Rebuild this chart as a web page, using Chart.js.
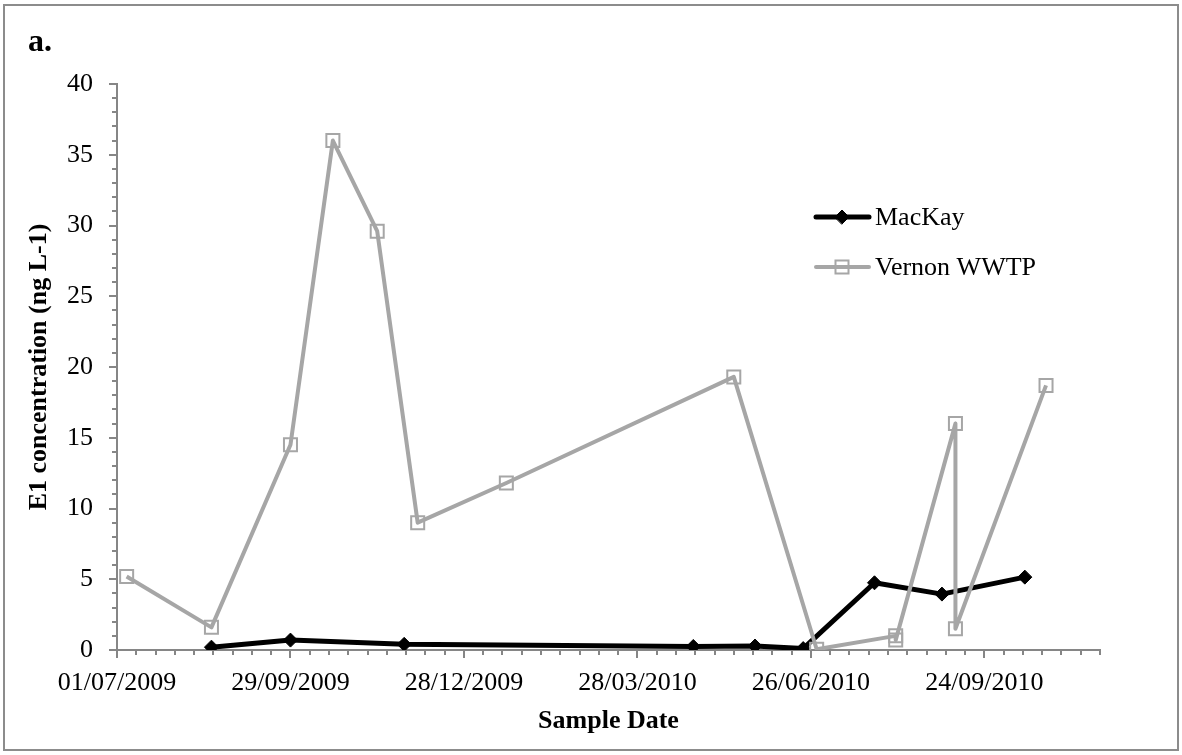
<!DOCTYPE html>
<html>
<head>
<meta charset="utf-8">
<script src="https://cdn.jsdelivr.net/npm/chart.js@4.4.1/dist/chart.umd.min.js"></script>
<style>
  html, body { margin: 0; padding: 0; background: #fff; }
  #wrap { position: relative; width: 1182px; height: 755px; }
</style>
</head>
<body>
<div id="wrap"><canvas id="myChart" width="1182" height="755"></canvas></div>
<script>
const ctx = document.getElementById('myChart')

// sample dates (dd/mm/yyyy) and E1 values in ng/L
const mackayDates = ['19/08/2009', '29/09/2009', '27/11/2009', '26/04/2010', '28/05/2010',
                     '22/06/2010', '29/07/2010', '02/09/2010', '15/10/2010']
const mackayE1 = [0.2, 0.7, 0.4, 0.25, 0.28, 0.1, 4.75, 3.95, 5.15]

const vernonDates = ['06/07/2009', '19/08/2009', '29/09/2009', '21/10/2009', '13/11/2009',
                     '04/12/2009', '19/01/2010', '17/05/2010', '29/06/2010', '09/08/2010',
                     '09/08/2010', '09/09/2010', '09/09/2010', '26/10/2010']
const vernonE1 = [5.2, 1.6, 14.5, 36.0, 29.6, 9.0, 11.8, 19.3, 0.05, 1.0, 0.7, 16.0, 1.5, 18.7]

const xTickLabels = ['01/07/2009', '29/09/2009', '28/12/2009', '28/03/2010', '26/06/2010', '24/09/2010']
const yTickLabels = [0, 5, 10, 15, 20, 25, 30, 35, 40]
const axisEnd = '23/11/2010'

const serif = "'Liberation Serif', 'Times New Roman', serif"
const axisGrey = '#868686'

// days since the first axis date
function toDay(s) {
  const [d, m, y] = s.split('/').map(Number)
  const [d0, m0, y0] = xTickLabels[0].split('/').map(Number)
  return Math.round((Date.UTC(y, m - 1, d) - Date.UTC(y0, m0 - 1, d0)) / 86400000)
}

const toPoints = (dates, vals) => dates.map((d, i) => ({ x: toDay(d), y: vals[i] }))

// frame, panel letter, minor/major tick marks and the legend
const decorations = {
  id: 'decorations',
  beforeDraw(chart) {
    const c = chart.ctx
    c.save()
    c.fillStyle = '#fff'
    c.fillRect(0, 0, chart.width, chart.height)
    c.strokeStyle = '#8c8c8c'
    c.lineWidth = 2
    c.strokeRect(4, 5, 1174, 745)
    c.fillStyle = '#000'
    c.font = 'bold 32px ' + serif
    c.textBaseline = 'alphabetic'
    c.fillText('a.', 28, 51)
    c.restore()
  },
  beforeDatasetsDraw(chart) {
    const c = chart.ctx
    const xs = chart.scales.x, ys = chart.scales.y
    c.save()
    c.strokeStyle = axisGrey
    c.lineWidth = 2
    c.beginPath()
    xs.ticks.forEach(t => {
      const px = Math.round(xs.getPixelForValue(t.value))
      const len = t.value % 90 === 0 ? 8 : 5
      c.moveTo(px, xs.top)
      c.lineTo(px, xs.top + len)
    })
    ys.ticks.forEach(t => {
      const py = Math.round(ys.getPixelForValue(t.value))
      const len = t.value % 5 === 0 ? 8 : 5
      c.moveTo(ys.right, py)
      c.lineTo(ys.right - len, py)
    })
    c.stroke()
    c.restore()
  },
  afterDraw(chart) {
    const c = chart.ctx
    const rows = [217, 267]
    c.save()
    chart.data.datasets.forEach((ds, i) => {
      const y = rows[i]
      c.strokeStyle = ds.borderColor
      c.lineWidth = ds.borderWidth
      c.lineCap = 'round'
      c.beginPath()
      c.moveTo(816, y)
      c.lineTo(869, y)
      c.stroke()
      c.fillStyle = ds.pointBackgroundColor
      c.strokeStyle = ds.pointBorderColor
      c.lineWidth = ds.pointBorderWidth
      Chart.helpers.drawPoint(c, { pointStyle: ds.pointStyle, radius: ds.pointRadius, rotation: 0, borderWidth: ds.pointBorderWidth }, 842, y)
      c.fillStyle = '#000'
      c.font = '26px ' + serif
      c.textBaseline = 'middle'
      c.fillText(ds.label, 875, y + 1)
    })
    c.restore()
  }
}

new Chart(ctx, {
  type: 'line',
  data: {
    datasets: [{
      label: 'MacKay',
      data: toPoints(mackayDates, mackayE1),
      borderColor: '#000',
      borderWidth: 5,
      borderJoinStyle: 'round',
      pointStyle: 'rectRot',
      pointRadius: 7,
      pointBackgroundColor: '#000',
      pointBorderColor: '#000',
      pointBorderWidth: 1,
      order: 1
    }, {
      label: 'Vernon WWTP',
      data: toPoints(vernonDates, vernonE1),
      borderColor: '#a6a6a6',
      borderWidth: 4,
      borderJoinStyle: 'round',
      pointStyle: 'rect',
      pointRadius: 9.2,
      pointBackgroundColor: 'rgba(255,255,255,0)',
      pointBorderColor: '#a6a6a6',
      pointBorderWidth: 2,
      order: 0
    }]
  },
  options: {
    responsive: false,
    animation: false,
    layout: { padding: { left: 14, right: 82, top: 84, bottom: 8 } },
    plugins: {
      legend: { display: false },
      tooltip: { enabled: false }
    },
    elements: { line: { tension: 0 } },
    scales: {
      x: {
        type: 'linear',
        min: 0,
        max: toDay(axisEnd),
        afterFit: s => { s.height = 97 },
        border: { display: true, color: axisGrey, width: 2 },
        grid: { drawOnChartArea: false, drawTicks: true, tickLength: 8, tickColor: 'rgba(0,0,0,0)' },
        ticks: {
          stepSize: 10,
          autoSkip: false,
          maxRotation: 0,
          padding: 10,
          color: '#000',
          font: { family: serif, size: 26 },
          callback: v => v % 90 === 0 ? xTickLabels[v / 90] : ''
        },
        title: {
          display: true,
          text: 'Sample Date',
          color: '#000',
          font: { family: serif, size: 26, weight: 'bold' },
          padding: { top: 0, bottom: 10 }
        }
      },
      y: {
        min: 0,
        max: 40,
        afterFit: s => { s.width = 103 },
        border: { display: true, color: axisGrey, width: 2 },
        grid: { drawOnChartArea: false, drawTicks: true, tickLength: 8, tickColor: 'rgba(0,0,0,0)' },
        ticks: {
          stepSize: 1,
          autoSkip: false,
          padding: 16,
          color: '#000',
          font: { family: serif, size: 26 },
          callback: v => yTickLabels.includes(v) ? v : ''
        },
        title: {
          display: true,
          text: 'E1 concentration (ng L-1)',
          color: '#000',
          font: { family: serif, size: 26, weight: 'bold' },
          padding: { top: 10, bottom: 0 }
        }
      }
    }
  },
  plugins: [decorations]
})
</script>
</body>
</html>
